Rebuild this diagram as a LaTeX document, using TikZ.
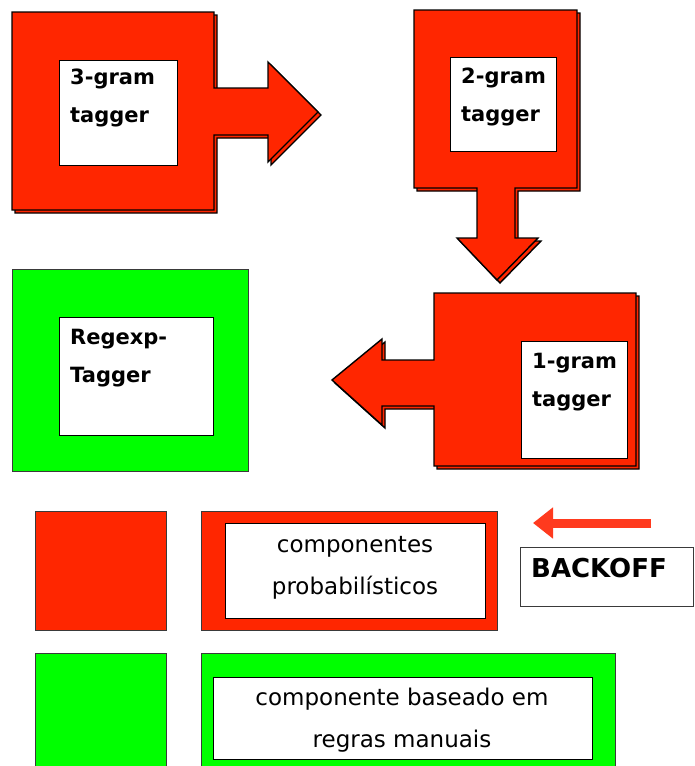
\documentclass[tikz,border=0pt]{standalone}
\usepackage{fontspec}
\setmainfont{DejaVu Sans}
\usetikzlibrary{arrows.meta}
\definecolor{tagred}{HTML}{FF2600}
\definecolor{taggreen}{HTML}{00FF00}
\definecolor{backred}{HTML}{FF3A1E}
\definecolor{edgegray}{HTML}{3A3A3A}
\begin{document}
\begin{tikzpicture}[x=1pt,y=-1pt,line join=miter]
    \tikzset{
        redshape/.style={fill=tagred,draw=black,line width=1.4pt},
        inbox/.style={fill=white,draw=black,line width=0.9pt},
        keybox/.style={draw=edgegray,line width=0.8pt},
        taglbl/.style={font=\bfseries\fontsize{21}{38}\selectfont,align=left,anchor=north west,inner sep=0pt},
        keylbl/.style={font=\fontsize{23}{42}\selectfont,align=center,inner sep=0pt},
        boarrow/.style={draw=backred,line width=9pt,-{Triangle[length=20pt,width=30pt]}}
    }
    \clip (0,0) rectangle (694,766);

    % 3-gram tagger, arrow to the right
    \foreach \o in {3,0}
        \draw[redshape,shift={(\o,\o)}] (12,12) -- (214,12) -- (214,88) -- (268,88) -- (268,62)
            -- (318,112) -- (268,162) -- (268,135) -- (214,135) -- (214,210) -- (12,210) -- cycle;
    \draw[inbox] (59,60) rectangle (177,165);
    \node[taglbl] (tri) at (70,69) {3-gram\\tagger};

    % 2-gram tagger, arrow down
    \foreach \o in {3,0}
        \draw[redshape,shift={(\o,\o)}] (414,10) -- (577,10) -- (577,188) -- (515,188) -- (515,238)
            -- (538,238) -- (497,280) -- (457,238) -- (477,238) -- (477,188) -- (414,188) -- cycle;
    \draw[inbox] (450,57) rectangle (556,151);
    \node[taglbl] (bi) at (461,68) {2-gram\\tagger};

    % 1-gram tagger, arrow to the left
    \foreach \o in {3,0}
        \draw[redshape,shift={(\o,\o)}] (434,293) -- (636,293) -- (636,466) -- (434,466) -- (434,406)
            -- (382,406) -- (382,425) -- (332,380) -- (382,339) -- (382,360) -- (434,360) -- cycle;
    \draw[inbox] (521,341) rectangle (627,458);
    \node[taglbl] (uni) at (532,353) {1-gram\\tagger};

    % regexp tagger
    \draw[keybox,fill=taggreen] (12,269) rectangle (248,471);
    \draw[inbox] (59,317) rectangle (213,435);
    \node[taglbl] (regex) at (70,329) {Regexp-\\Tagger};

    % legend
    \draw[keybox,fill=tagred] (35,511) rectangle (166,630);
    \draw[keybox,fill=tagred] (201,511) rectangle (497,630);
    \draw[inbox] (225,523) rectangle (485,618);
    \node[keylbl] (prob) at (355,568) {componentes\\probabilísticos};

    \draw[keybox,fill=taggreen] (35,653) rectangle (166,780);
    \draw[keybox,fill=taggreen] (201,653) rectangle (615,780);
    \draw[inbox] (213,677) rectangle (592,759);
    \node[keylbl] (rules) at (402,720) {componente baseado em\\regras manuais};

    % backoff
    \coordinate (bostart) at (651,523);
    \coordinate (boend) at (533,523);
    \draw[boarrow] (bostart) -- (boend);
    \draw[keybox] (520,547) rectangle (693,606);
    \node[font=\bfseries\fontsize{26}{30}\selectfont,anchor=base west,inner sep=0pt] (bo) at (531,577) {BACKOFF};
\end{tikzpicture}
\end{document}
